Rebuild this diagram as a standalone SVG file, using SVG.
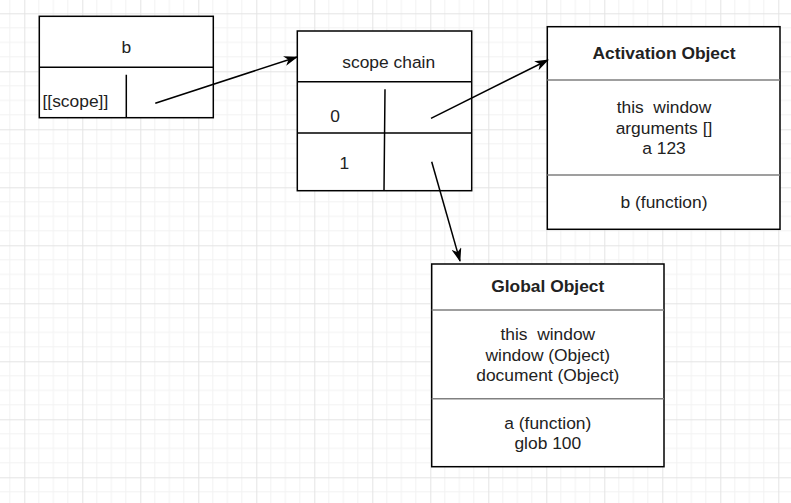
<svg xmlns="http://www.w3.org/2000/svg" width="791" height="503" viewBox="0 0 791 503">
<defs>
<pattern id="grid" patternUnits="userSpaceOnUse" x="24.3" y="13.3" width="58" height="58">
<path d="M14.5,0V58M29,0V58M43.5,0V58M0,14.5H58M0,29H58M0,43.5H58" stroke="#f2f2f2" stroke-width="1" fill="none"/>
<path d="M0.5,0V58M0,0.5H58" stroke="#e4e4e4" stroke-width="1" fill="none"/>
</pattern>
<marker id="arrow" viewBox="0 0 14 10" refX="13" refY="5" markerWidth="14" markerHeight="10" markerUnits="userSpaceOnUse" orient="auto">
<path d="M0,0 L14,5 L0,10 L4,5 z" fill="#000"/>
</marker>
</defs>
<style>
.box{fill:#fff;stroke:#000;stroke-width:1.5}
.sep{stroke:#000;stroke-width:1.5;fill:none}
.gsep{stroke:#808080;stroke-width:1.5;fill:none}
.t{font-family:"Liberation Sans",Arial,sans-serif;font-size:17.4px;fill:#222;text-anchor:middle;dominant-baseline:central;white-space:pre}
.b{font-weight:bold}
.edge{stroke:#000;stroke-width:1.5;fill:none;marker-end:url(#arrow)}
</style>
<rect width="791" height="503" fill="#fff"/>
<rect width="791" height="503" fill="url(#grid)"/>

<g id="node-b">
<rect class="box" x="39.3" y="16.3" width="174" height="101.4"/>
<path class="sep" d="M39.3,67.3H213.3M126.3,74.7V117.7"/>
<text class="t" x="126.3" y="47">b</text>
<text class="t" x="42.5" y="101" style="text-anchor:start">[[scope]]</text>
</g>

<g id="node-scope-chain">
<rect class="box" x="297.3" y="31" width="174.4" height="159.7"/>
<path class="sep" d="M297.3,81.7H471.7M297.3,133H471.7M385,89.3L384,190.7"/>
<text class="t" x="388.7" y="61.5">scope chain</text>
<text class="t" x="335" y="115.5">0</text>
<text class="t" x="344.3" y="163">1</text>
</g>

<g id="node-activation">
<rect class="box" x="547.3" y="26.7" width="232.7" height="202.6"/>
<path class="gsep" d="M547.3,80H780M547.3,175H780"/>
<text class="t b" x="664" y="53.3">Activation Object</text>
<text class="t" x="664" y="107" xml:space="preserve">this  window</text>
<text class="t" x="664" y="127.5">arguments []</text>
<text class="t" x="664" y="148">a 123</text>
<text class="t" x="664" y="201.5">b (function)</text>
</g>

<g id="node-global">
<rect class="box" x="431.7" y="264" width="232.3" height="202.7"/>
<path class="gsep" d="M431.7,310H664M431.7,398.7H664"/>
<text class="t b" x="547.8" y="285.7">Global Object</text>
<text class="t" x="547.8" y="334.3" xml:space="preserve">this  window</text>
<text class="t" x="547.8" y="354.5">window (Object)</text>
<text class="t" x="547.8" y="374.5">document (Object)</text>
<text class="t" x="547.8" y="422.7">a (function)</text>
<text class="t" x="547.8" y="443.3">glob 100</text>
</g>

<g id="connectors">
<line class="edge" x1="155.3" y1="103.3" x2="297" y2="57"/>
<line class="edge" x1="431" y1="118.3" x2="548" y2="60"/>
<line class="edge" x1="431.7" y1="161.7" x2="460" y2="261"/>
</g>
</svg>
